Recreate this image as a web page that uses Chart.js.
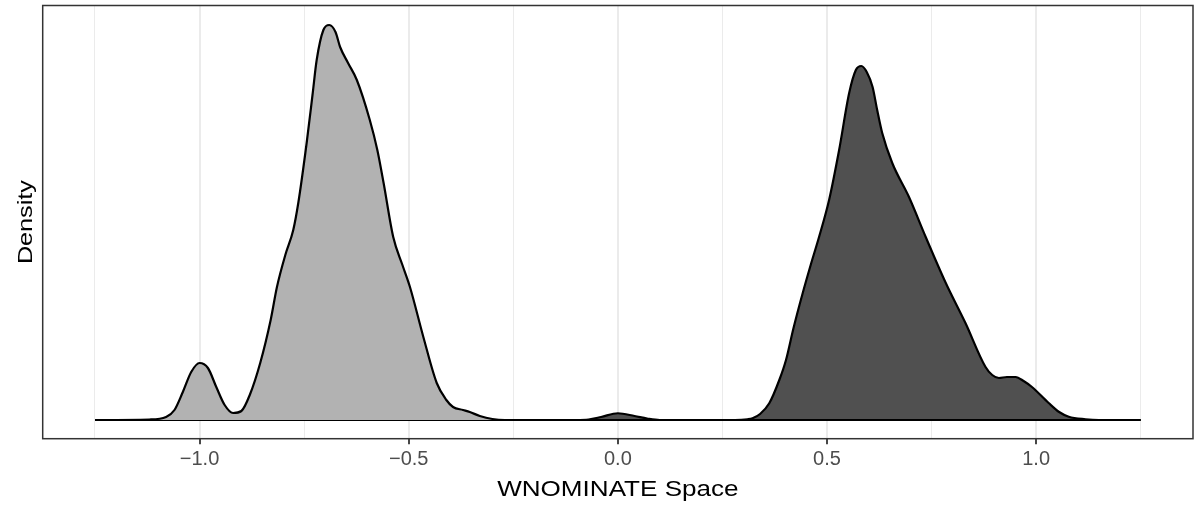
<!DOCTYPE html>
<html>
<head>
<meta charset="utf-8">
<script src="https://cdn.jsdelivr.net/npm/chart.js@4"></script>
<style>
  body { margin: 0; background: #fff; }
  #wrap { width: 1197px; height: 507px; }
</style>
</head>
<body>
<div id="wrap"><canvas id="chart"></canvas></div>
<script>
// WNOMINATE-Positionen, Dichte je Gruppe
const grayX = [-1.25, -1.12, -1.08, -1.06, -1.04, -1.02, -1.00, -0.98, -0.96, -0.94, -0.92, -0.90, -0.88,
  -0.855, -0.83, -0.815, -0.795, -0.776, -0.764, -0.744, -0.73, -0.72, -0.704, -0.69, -0.675, -0.664,
  -0.645, -0.624, -0.593, -0.575, -0.56, -0.537, -0.515, -0.497, -0.465, -0.433, -0.41, -0.394, -0.37,
  -0.354, -0.33, -0.30, -0.27, 0.0, 0.6, 1.25];
const grayDensity = [0, 0.004, 0.024, 0.08, 0.224, 0.384, 0.456, 0.416, 0.264, 0.12, 0.056, 0.072, 0.2,
  0.456, 0.8, 1.064, 1.32, 1.52, 1.736, 2.216, 2.6, 2.88, 3.12, 3.16, 3.104, 2.984,
  2.856, 2.72, 2.4, 2.16, 1.896, 1.464, 1.24, 1.064, 0.664, 0.296, 0.16, 0.104, 0.08,
  0.064, 0.032, 0.008, 0, 0, 0, 0];

const darkX = [-1.25, -0.6, -0.10, -0.07, -0.04, 0.00, 0.04, 0.07, 0.10, 0.28, 0.31, 0.322, 0.34, 0.362,
  0.386, 0.402, 0.42, 0.442, 0.461, 0.481, 0.505, 0.529, 0.553, 0.569, 0.582, 0.595, 0.609, 0.62,
  0.632, 0.656, 0.696, 0.736, 0.784, 0.831, 0.879, 0.895, 0.911, 0.93, 0.951, 0.97, 0.99, 1.03,
  1.055, 1.078, 1.118, 1.15, 1.25];
const darkDensity = [0, 0, 0, 0.004, 0.024, 0.054, 0.032, 0.012, 0, 0, 0.006, 0.014, 0.048, 0.134,
  0.32, 0.48, 0.736, 1.016, 1.24, 1.464, 1.76, 2.16, 2.616, 2.8, 2.832, 2.784, 2.664, 2.48,
  2.296, 2.056, 1.784, 1.464, 1.096, 0.776, 0.424, 0.36, 0.336, 0.344, 0.344, 0.312, 0.264, 0.136,
  0.064, 0.026, 0.006, 0, 0];

const majorTicks = [-1.0, -0.5, 0.0, 0.5, 1.0];
const minorTicks = [-1.25, -0.75, -0.25, 0.25, 0.75, 1.25];

const toPoints = (xs, ys) => xs.map((x, i) => ({ x: x, y: ys[i] }));
const isMajor = v => majorTicks.some(m => Math.abs(m - v) < 1e-9);

// Achsentitel etwas breiter ziehen (wie im Original)
function stretchTitle(scale, horizontal, f) {
  if (scale._stretched) return;
  const orig = scale.drawTitle.bind(scale);
  scale.drawTitle = function () {
    const c = this.ctx;
    c.save();
    if (horizontal) {
      const cx = (this.left + this.right) / 2;
      c.translate(cx, 0); c.scale(f, 1); c.translate(-cx, 0);
    } else {
      const cy = (this.top + this.bottom) / 2;
      c.translate(0, cy); c.scale(1, f); c.translate(0, -cy);
    }
    orig();
    c.restore();
  };
  scale._stretched = true;
}

// Rahmen um das Panel
const panelBorder = {
  id: "panelBorder",
  beforeDraw(chart) {
    stretchTitle(chart.scales.x, true, 1.185);
    stretchTitle(chart.scales.y, false, 1.2);
  },
  afterDraw(chart) {
    const { ctx, chartArea: a } = chart;
    ctx.save();
    ctx.strokeStyle = "#333333";
    ctx.lineWidth = 1.5;
    ctx.strokeRect(a.left, a.top, a.right - a.left, a.bottom - a.top);
    ctx.restore();
  }
};

new Chart(document.getElementById("chart"), {
  type: "line",
  data: {
    datasets: [
      {
        data: toPoints(grayX, grayDensity),
        borderColor: "#000000",
        backgroundColor: "#B2B2B2",
        borderWidth: 2.2,
        fill: "origin",
        pointRadius: 0,
        cubicInterpolationMode: "monotone"
      },
      {
        data: toPoints(darkX, darkDensity),
        borderColor: "#000000",
        backgroundColor: "#505050",
        borderWidth: 2.2,
        fill: "origin",
        pointRadius: 0,
        cubicInterpolationMode: "monotone"
      }
    ]
  },
  options: {
    responsive: true,
    maintainAspectRatio: false,
    devicePixelRatio: 1,
    animation: false,
    layout: { padding: { top: 5.5, right: 4, left: 0, bottom: 0 } },
    plugins: { legend: { display: false }, tooltip: { enabled: false } },
    scales: {
      x: {
        type: "linear",
        min: -1.375,
        max: 1.375,
        afterBuildTicks(scale) {
          scale.ticks = minorTicks.concat(majorTicks).sort((a, b) => a - b).map(v => ({ value: v }));
        },
        afterFit(scale) { scale.height = 68.3; },
        grid: {
          color: "#EBEBEB",
          lineWidth: ctx => (isMajor(ctx.tick.value) ? 2 : 1),
          tickColor: ctx => (isMajor(ctx.tick.value) ? "#333333" : "rgba(0,0,0,0)"),
          tickWidth: 1.8,
          tickLength: 5.5
        },
        border: { display: false },
        ticks: {
          autoSkip: false,
          maxRotation: 0,
          padding: 3.6,
          color: "#4D4D4D",
          font: { family: "Liberation Sans", size: 20 },
          callback: v => (isMajor(v) ? v.toFixed(1).replace("-", "\u2212") : "")
        },
        title: {
          display: true,
          text: "WNOMINATE Space",
          color: "#000000",
          font: { family: "Liberation Sans", size: 22 },
          padding: { top: 0, bottom: 4.1 }
        }
      },
      y: {
        min: -0.1496,
        max: 3.316,
        afterFit(scale) { scale.width = 42.7; },
        grid: { display: false },
        border: { display: false },
        ticks: { display: false },
        title: {
          display: true,
          text: "Density",
          color: "#000000",
          font: { family: "Liberation Sans", size: 21 },
          padding: { top: 13.4, bottom: 0 }
        }
      }
    }
  },
  plugins: [panelBorder]
});
</script>
</body>
</html>
